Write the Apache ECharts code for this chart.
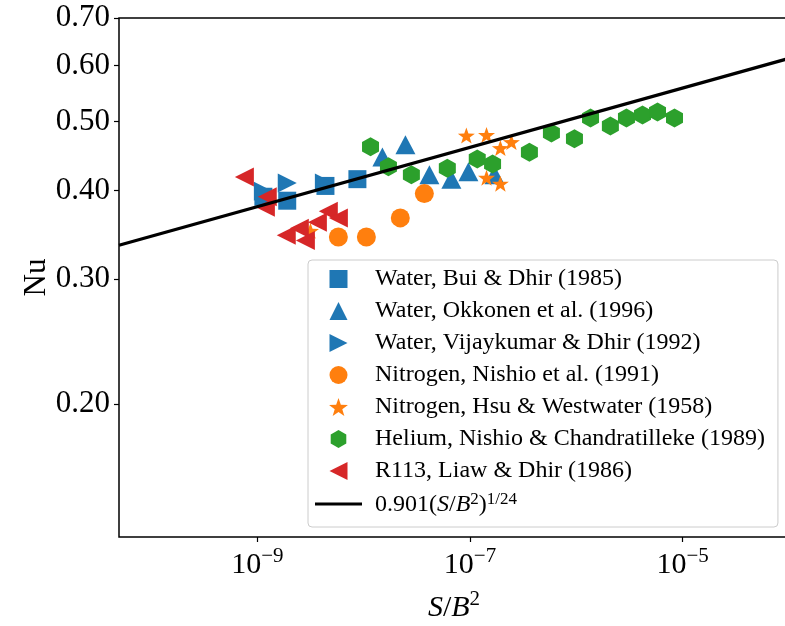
<!DOCTYPE html>
<html>
<head>
<meta charset="utf-8">
<script src="https://cdn.jsdelivr.net/npm/echarts@6/dist/echarts.min.js"></script>
<style>
  html, body { margin: 0; padding: 0; background: #fff; }
  #chart { width: 785px; height: 626px; }
</style>
</head>
<body>
<div id="chart"></div>
<script>
// values: x = S/B^2, y = Nu
var buiX = [1.14e-9, 1.91e-9, 4.37e-9, 8.73e-9];
var buiY = [0.392, 0.387, 0.406, 0.415];

var okkonenX = [1.50e-8, 2.47e-8, 4.15e-8, 6.68e-8, 9.66e-8, 1.70e-7];
var okkonenY = [0.446, 0.464, 0.421, 0.415, 0.425, 0.421];

var vijayX = [1.14e-9, 1.91e-9, 4.27e-9];
var vijayY = [0.399, 0.410, 0.410];

var nishioN2X = [5.78e-9, 1.06e-8, 2.21e-8, 3.72e-8];
var nishioN2Y = [0.344, 0.344, 0.366, 0.396];

var hsuX = [3.16e-9, 9.24e-8, 1.43e-7, 1.93e-7, 2.45e-7, 1.43e-7, 1.93e-7];
var hsuY = [0.351, 0.478, 0.479, 0.459, 0.468, 0.417, 0.409];

var heliumX = [1.16e-8, 1.71e-8, 2.81e-8, 6.12e-8, 1.17e-7, 1.63e-7, 3.62e-7, 5.83e-7,
               9.60e-7, 1.36e-6, 2.09e-6, 2.96e-6, 4.19e-6, 5.80e-6, 8.38e-6];
var heliumY = [0.461, 0.432, 0.421, 0.430, 0.443, 0.436, 0.453, 0.482,
               0.473, 0.506, 0.493, 0.506, 0.511, 0.516, 0.506];

var r113X = [7.55e-10, 1.24e-9, 1.19e-9, 1.87e-9, 2.48e-9, 2.83e-9, 3.67e-9, 4.65e-9, 5.78e-9];
var r113Y = [0.418, 0.392, 0.379, 0.346, 0.354, 0.340, 0.361, 0.374, 0.366];

// correlation line 0.901 (S/B^2)^(1/24), end points
var fitX = [5e-11, 1e-4];
var fitY = [0.335, 0.614];

var xTicks = [1e-9, 1e-7, 1e-5];
var yTicks = [0.2, 0.3, 0.4, 0.5, 0.6, 0.7];

var FONT = 'Liberation Serif';

function pts(xs, ys) {
  var out = [];
  for (var i = 0; i < xs.length; i++) out.push([xs[i], ys[i]]);
  return out;
}

function starPath() {
  var p = [];
  for (var i = 0; i < 10; i++) {
    var r = i % 2 ? 0.4 : 1;
    var a = -Math.PI / 2 + i * Math.PI / 5;
    p.push((i ? 'L' : 'M') + (r * Math.cos(a)).toFixed(3) + ',' + (r * Math.sin(a)).toFixed(3));
  }
  return 'path://' + p.join(' ') + 'Z';
}

var SQUARE = 'path://M0,0L1,0L1,1L0,1Z';
var TRI_UP = 'path://M0.5,0L1,1L0,1Z';
var TRI_RIGHT = 'path://M0,0L1,0.5L0,1Z';
var TRI_LEFT = 'path://M1,0L0,0.5L1,1Z';
var HEXAGON = 'path://M0,-1L0.866,-0.5L0.866,0.5L0,1L-0.866,0.5L-0.866,-0.5Z';
var STAR = starPath();
var LINE_ICON = 'path://M0,0L47,0L47,3L0,3Z';

var BLUE = '#1f77b4', ORANGE = '#ff7f0e', GREEN = '#2ca02c', RED = '#d62728';

function scatter(name, xs, ys, symbol, size, color) {
  return {
    name: name,
    type: 'scatter',
    data: pts(xs, ys),
    symbol: symbol,
    symbolSize: size,
    itemStyle: { color: color, opacity: 1 },
    emphasis: { disabled: true }
  };
}

var chart = echarts.init(document.getElementById('chart'));

var option = {
  animation: false,
  backgroundColor: '#fff',
  textStyle: { fontFamily: FONT },
  grid: {
    left: 119, top: 18, width: 670, height: 519,
    outerBoundsMode: 'none',
    containLabel: false,
    show: true, borderColor: '#000', borderWidth: 1.5, backgroundColor: 'transparent'
  },
  xAxis: {
    type: 'log',
    logBase: 10,
    min: fitX[0],
    max: fitX[1],
    axisLine: { show: false },
    axisTick: { show: true, length: 5, lineStyle: { color: '#000', width: 1.2 }, customValues: xTicks },
    minorTick: { show: false },
    splitLine: { show: false },
    axisLabel: {
      customValues: xTicks,
      margin: 9,
      color: '#000',
      fontFamily: FONT,
      fontSize: 30,
      formatter: function (v) {
        var e = Math.round(Math.log10(v));
        return '{b|10}{s|' + (e < 0 ? '\u2212' : '') + Math.abs(e) + '}';
      },
      rich: {
        b: { fontFamily: FONT, fontSize: 30, color: '#000', verticalAlign: 'bottom', lineHeight: 34 },
        s: { fontFamily: FONT, fontSize: 21, color: '#000', verticalAlign: 'top', lineHeight: 34, padding: [0, 0, 10, 0] }
      }
    },
    name: '{i|S}{n|/}{i|B}{s|2}',
    nameLocation: 'middle',
    nameGap: 52,
    nameMoveOverlap: false,
    nameTextStyle: {
      rich: {
        i: { fontFamily: FONT, fontStyle: 'italic', fontSize: 30, color: '#000', verticalAlign: 'bottom', lineHeight: 34 },
        n: { fontFamily: FONT, fontSize: 30, color: '#000', verticalAlign: 'bottom', lineHeight: 34 },
        s: { fontFamily: FONT, fontSize: 21, color: '#000', verticalAlign: 'top', lineHeight: 34 }
      }
    }
  },
  yAxis: {
    type: 'log',
    logBase: 10,
    min: 0.13,
    max: 0.7,
    axisLine: { show: false },
    axisTick: { show: true, length: 5, lineStyle: { color: '#000', width: 1.2 }, customValues: yTicks },
    minorTick: { show: false },
    splitLine: { show: false },
    axisLabel: {
      customValues: yTicks,
      margin: 9,
      color: '#000',
      fontFamily: FONT,
      fontSize: 31,
      formatter: function (v) { return Number(v).toFixed(2); }
    },
    name: 'Nu',
    nameLocation: 'middle',
    nameGap: 67,
    nameMoveOverlap: false,
    nameTextStyle: { fontFamily: FONT, fontSize: 31, color: '#000' }
  },
  legend: {
    orient: 'vertical',
    left: 308,
    top: 260,
    backgroundColor: 'rgba(255,255,255,0.85)',
    borderColor: '#cccccc',
    borderWidth: 1,
    borderRadius: 4,
    padding: [7, 13, 10, 7],
    itemWidth: 47,
    itemHeight: 18,
    itemGap: 8,
    selectedMode: false,
    textStyle: {
      fontFamily: FONT,
      fontSize: 24,
      color: '#000',
      padding: [0, 0, 0, 8],
      rich: {
        n: { fontFamily: FONT, fontSize: 24, color: '#000', lineHeight: 26, verticalAlign: 'bottom' },
        i: { fontFamily: FONT, fontSize: 24, fontStyle: 'italic', color: '#000', lineHeight: 26, verticalAlign: 'bottom' },
        s: { fontFamily: FONT, fontSize: 17, color: '#000', lineHeight: 26, verticalAlign: 'top', padding: [0, 0, 9, 0] }
      }
    },
    data: [
      { name: 'Water, Bui & Dhir (1985)', icon: SQUARE },
      { name: 'Water, Okkonen et al. (1996)', icon: TRI_UP },
      { name: 'Water, Vijaykumar & Dhir (1992)', icon: TRI_RIGHT },
      { name: 'Nitrogen, Nishio et al. (1991)', icon: 'circle' },
      { name: 'Nitrogen, Hsu & Westwater (1958)', icon: STAR },
      { name: 'Helium, Nishio & Chandratilleke (1989)', icon: HEXAGON },
      { name: 'R113, Liaw & Dhir (1986)', icon: TRI_LEFT },
      { name: 'fit', icon: LINE_ICON }
    ],
    formatter: function (name) {
      if (name === 'fit') return '{n|0.901(}{i|S}{n|/}{i|B}{s|2}{n|)}{s|1/24}';
      return name;
    }
  },
  series: [
    scatter('Water, Bui & Dhir (1985)', buiX, buiY, SQUARE, [18, 18], BLUE),
    scatter('Water, Okkonen et al. (1996)', okkonenX, okkonenY, TRI_UP, [20, 19], BLUE),
    scatter('Water, Vijaykumar & Dhir (1992)', vijayX, vijayY, TRI_RIGHT, [19, 19], BLUE),
    scatter('Nitrogen, Nishio et al. (1991)', nishioN2X, nishioN2Y, 'circle', 19, ORANGE),
    scatter('Nitrogen, Hsu & Westwater (1958)', hsuX, hsuY, STAR, [17, 16], ORANGE),
    scatter('Helium, Nishio & Chandratilleke (1989)', heliumX, heliumY, HEXAGON, [17, 19], GREEN),
    scatter('R113, Liaw & Dhir (1986)', r113X, r113Y, TRI_LEFT, [19, 19], RED),
    {
      name: 'fit',
      type: 'line',
      data: pts(fitX, fitY),
      symbol: 'none',
      lineStyle: { color: '#000', width: 3.2 },
      itemStyle: { color: '#000' },
      emphasis: { disabled: true },
      z: 5
    }
  ]
};

chart.setOption(option);
</script>
</body>
</html>
